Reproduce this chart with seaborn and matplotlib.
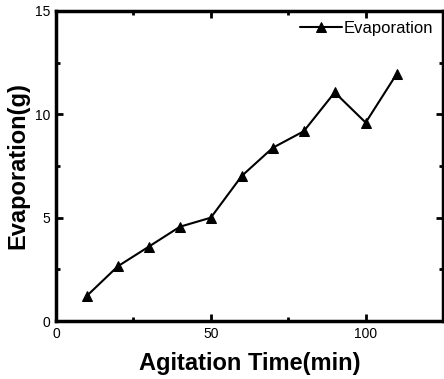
import matplotlib
matplotlib.use("Agg")
import matplotlib.pyplot as plt
import seaborn as sns
import pandas as pd
from matplotlib.ticker import MultipleLocator

time_min = [10, 20, 30, 40, 50, 60, 70, 80, 90, 100, 110]
evaporation = [1.22, 2.65, 3.6, 4.56, 5.0, 7.02, 8.38, 9.18, 11.06, 9.6, 11.95]
x_ticks = [0, 50, 100]
y_ticks = [0, 5, 10, 15]

sns.set_theme(style="ticks")
plt.rcParams['font.family'] = ['Liberation Sans', 'DejaVu Sans']
plt.rcParams['text.color'] = 'black'
plt.rcParams['axes.labelcolor'] = 'black'
plt.rcParams['xtick.color'] = 'black'
plt.rcParams['ytick.color'] = 'black'
plt.rcParams['axes.edgecolor'] = 'black'

df = pd.DataFrame({"Agitation Time(min)": time_min, "Evaporation(g)": evaporation})

fig = plt.figure(figsize=(4.44, 3.79), dpi=100)
ax = fig.add_axes([0.126, 0.153, 0.872, 0.818])
sns.lineplot(data=df, x="Agitation Time(min)", y="Evaporation(g)", ax=ax,
             color="black", marker="^", markersize=6.5, linewidth=1.5,
             markeredgecolor="black", label="Evaporation")

ax.set_xlim(0, 125)
ax.set_ylim(0, 15)
ax.set_xticks(x_ticks)
ax.set_yticks(y_ticks)
ax.xaxis.set_minor_locator(MultipleLocator(25))
ax.yaxis.set_minor_locator(MultipleLocator(2.5))
ax.tick_params(which="both", direction="in", top=True, right=True, labelsize=10,
               width=2, pad=4, colors="black")
ax.tick_params(which="major", length=5)
ax.tick_params(which="minor", length=3)
for s in ax.spines.values():
    s.set_linewidth(2.5)
    s.set_color("black")
    s.set_visible(True)

ax.set_xlabel("Agitation Time(min)", fontsize=17, fontweight="bold", labelpad=8, color="black")
ax.set_ylabel("Evaporation(g)", fontsize=17, fontweight="bold", labelpad=4, color="black")
leg = ax.legend(loc="upper right", frameon=False, fontsize=12, handlelength=2.5,
                handletextpad=0.1, borderaxespad=0.2)
for t in leg.get_texts():
    t.set_color("black")

fig.savefig("out.png", dpi=100)
